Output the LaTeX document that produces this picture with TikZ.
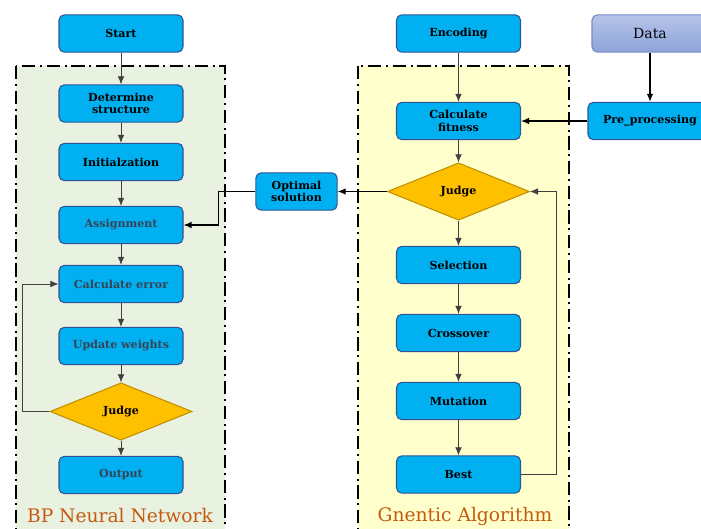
\documentclass[tikz,border=0pt]{standalone}
\usepackage{fontspec}
\setmainfont{DejaVu Serif}
\usetikzlibrary{shapes.geometric,arrows.meta}
\definecolor{boxblue}{RGB}{0,176,240}
\definecolor{boxline}{RGB}{47,85,151}
\definecolor{judgefill}{RGB}{255,192,0}
\definecolor{judgeline}{RGB}{191,144,0}
\definecolor{bpgreen}{RGB}{233,242,225}
\definecolor{gayellow}{RGB}{255,255,204}
\definecolor{titleorange}{RGB}{197,90,17}
\definecolor{greytext}{RGB}{55,68,85}
\definecolor{datatop}{RGB}{182,196,233}
\definecolor{databot}{RGB}{141,163,217}
\definecolor{dataline}{RGB}{120,138,196}

\begin{document}
\begin{tikzpicture}[x=0.75pt,y=-0.75pt,
    stepbox/.style={draw=boxline,fill=boxblue,rounded corners=4pt,line width=0.8pt,minimum width=93pt,minimum height=28pt,align=center,inner sep=1pt,font=\bfseries\fontsize{8.3}{9.3}\selectfont},
    judgebox/.style={diamond,draw=judgeline,fill=judgefill,line width=0.8pt,aspect=2.5,minimum width=106.5pt,minimum height=43pt,inner sep=0pt,font=\bfseries\fontsize{8.3}{9.3}\selectfont},
    flow/.style={-{Latex[length=6pt,width=5pt]},draw=black!75,line width=0.6pt},
    link/.style={-{Latex[length=6pt,width=5pt]},draw=black,line width=1pt},
    frame/.style={line width=2.2pt,dash pattern=on 10pt off 3.5pt on 1.5pt off 3.5pt},
    title/.style={text=titleorange,font=\fontsize{14}{16}\selectfont}]
  \useasboundingbox (0,0) rectangle (701,529);
  \clip (0,0) rectangle (701,529);
  \fill[white] (0,0) rectangle (701,529);

  \fill[bpgreen] (16,66) rectangle (225,545);
  \draw[frame] (16,66) rectangle (225,545);
  \fill[gayellow] (358,66) rectangle (569,545);
  \draw[frame] (358,66) rectangle (569,545);

  \node[stepbox] (start) at (121,33.5) {Start};
  \node[stepbox] (determine) at (121,103.5) {Determine\\structure};
  \node[stepbox] (init) at (121,162) {Initialzation};
  \node[stepbox,text=greytext] (assign) at (121,225) {Assignment};
  \node[stepbox,text=greytext] (calcerr) at (121,284) {Calculate error};
  \node[stepbox,text=greytext] (update) at (121,346) {Update weights};
  \node[judgebox] (judgebp) at (121,411.5) {Judge};
  \node[stepbox,text=greytext] (output) at (121,475) {Output};
  \node[title] (bptitle) at (120,516) {BP Neural Network};

  \node[stepbox] (encoding) at (458.5,33.5) {Encoding};
  \node[stepbox] (fitness) at (458.5,121) {Calculate\\fitness};
  \node[judgebox] (judgega) at (458.5,191.5) {Judge};
  \node[stepbox] (selection) at (458.5,265) {Selection};
  \node[stepbox] (crossover) at (458.5,333) {Crossover};
  \node[stepbox] (mutation) at (458.5,401) {Mutation};
  \node[stepbox] (best) at (458.5,474.5) {Best};
  \node[title] (gatitle) at (465,516) {Gnentic Algorithm};

  \node[stepbox,minimum width=61pt] (optimal) at (296.5,191.5) {Optimal\\solution};
  \node[draw=dataline,top color=datatop,bottom color=databot,rounded corners=4pt,line width=0.8pt,minimum width=87pt,minimum height=28pt,font=\fontsize{10.5}{12}\selectfont] (data) at (650,33.5) {Data};
  \node[stepbox] (preproc) at (650,121) {Pre\_processing};

  \draw[flow] (start) -- (determine);
  \draw[flow] (determine) -- (init);
  \draw[flow] (init) -- (assign);
  \draw[flow] (assign) -- (calcerr);
  \draw[flow] (calcerr) -- (update);
  \draw[flow] (update) -- (judgebp);
  \draw[flow] (judgebp) -- (output);
  \draw[flow] (judgebp.west) -- ++(-27,0) |- (calcerr.west);

  \draw[flow] (encoding) -- (fitness);
  \draw[flow] (fitness) -- (judgega);
  \draw[flow] (judgega) -- (selection);
  \draw[flow] (selection) -- (crossover);
  \draw[flow] (crossover) -- (mutation);
  \draw[flow] (mutation) -- (best);
  \draw[flow] (best.east) -- ++(35,0) |- (judgega.east);

  \draw[link] (judgega.west) -- (optimal.east);
  \draw[link] (optimal.west) -- ++(-37,0) |- (assign.east);
  \draw[link] (data) -- (preproc);
  \draw[link] (preproc) -- (fitness);
\end{tikzpicture}
\end{document}
